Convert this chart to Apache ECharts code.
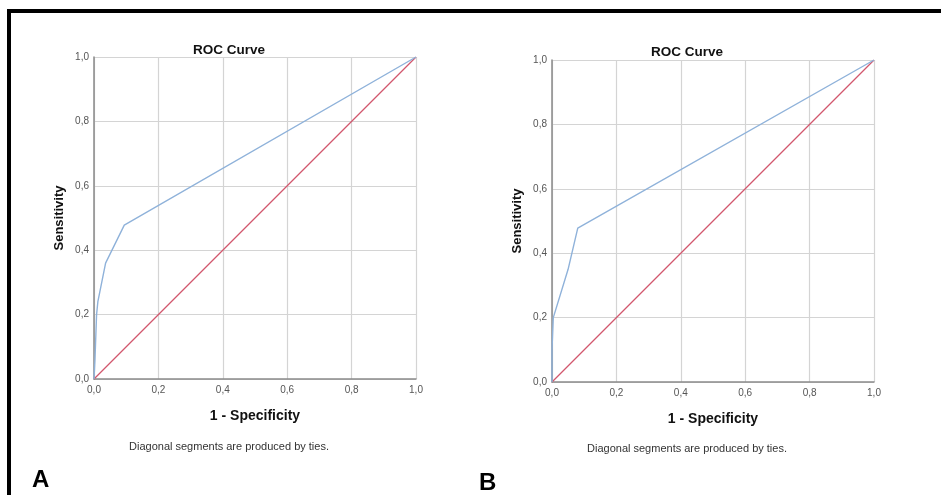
<!DOCTYPE html>
<html>
<head>
<meta charset="utf-8">
<style>
html,body{margin:0;padding:0;background:#fff;}
#c{width:941px;height:495px;}
</style>
<script src="https://cdn.jsdelivr.net/npm/echarts@6/dist/echarts.min.js"></script>
</head>
<body>
<div id="c"></div>
<script>
// ROC curve A: [1 - specificity, sensitivity]
const rocA = [[0,0],[0.003,0.06],[0.008,0.2],[0.012,0.24],[0.036,0.36],[0.094,0.478],[1,1]];
// ROC curve B
const rocB = [[0,0],[0,0.1],[0.004,0.1],[0.004,0.2],[0.008,0.2],[0.05,0.35],[0.08,0.478],[1,1]];
// reference diagonal
const diagonal = [[0,0],[1,1]];
const chartTitle = 'ROC Curve';
const xName = '1 - Specificity';
const yName = 'Sensitivity';
const footnote = 'Diagonal segments are produced by ties.';
const panelLetters = ['A','B'];

const FONT = '"Liberation Sans", Arial, sans-serif';
const fmt = v => v.toFixed(1).replace('.', ',');
const grids = [
  {left:94, top:57, width:322, height:322},
  {left:552, top:60, width:322, height:322}
];
function xAx(i){
  return {type:'value', gridIndex:i, min:0, max:1, interval:0.2,
    name:xName, nameLocation:'middle', nameGap:30,
    nameTextStyle:{fontFamily:FONT, fontSize:14, fontWeight:'bold', color:'#111'},
    axisLine:{show:true, lineStyle:{color:'#8a8a8a', width:1.5}},
    axisTick:{show:false},
    axisLabel:{formatter:fmt, fontFamily:FONT, fontSize:10, color:'#555', margin:6},
    splitLine:{show:true, lineStyle:{color:'#d4d4d4', width:1.2}}};
}
function yAx(i){
  return {type:'value', gridIndex:i, min:0, max:1, interval:0.2,
    name:yName, nameLocation:'middle', nameGap:28,
    nameTextStyle:{fontFamily:FONT, fontSize:13, fontWeight:'bold', color:'#111'},
    axisLine:{show:true, lineStyle:{color:'#8a8a8a', width:1.5}},
    axisTick:{show:false},
    axisLabel:{formatter:fmt, fontFamily:FONT, fontSize:10, color:'#555', margin:5},
    splitLine:{show:true, lineStyle:{color:'#d4d4d4', width:1.2}}};
}
const chart = echarts.init(document.getElementById('c'), null, {renderer:'canvas'});
const centers = [224, 682];
chart.setOption({
  animation:false,
  backgroundColor:'#fff',
  title:[
    {text:chartTitle, left:centers[0], top:38, textAlign:'center', textStyle:{fontFamily:FONT, fontSize:13.5, fontWeight:'bold', color:'#111'}},
    {text:chartTitle, left:centers[1], top:40, textAlign:'center', textStyle:{fontFamily:FONT, fontSize:13.5, fontWeight:'bold', color:'#111'}},
    {text:footnote, left:centers[0], top:436, textAlign:'center', textStyle:{fontFamily:FONT, fontSize:11, fontWeight:'normal', color:'#333'}},
    {text:footnote, left:centers[1], top:438, textAlign:'center', textStyle:{fontFamily:FONT, fontSize:11, fontWeight:'normal', color:'#333'}},
    {text:panelLetters[0], left:27, top:463, textStyle:{fontFamily:FONT, fontSize:24, fontWeight:'bold', color:'#000'}},
    {text:panelLetters[1], left:474, top:466, textStyle:{fontFamily:FONT, fontSize:24, fontWeight:'bold', color:'#000'}}
  ],
  grid:grids,
  xAxis:[xAx(0), xAx(1)],
  yAxis:[yAx(0), yAx(1)],
  series:[
    {type:'line', xAxisIndex:0, yAxisIndex:0, data:diagonal, showSymbol:false, lineStyle:{color:'#d2576d', width:1.3}, z:3},
    {type:'line', xAxisIndex:0, yAxisIndex:0, data:rocA, showSymbol:false, lineStyle:{color:'#8fb2da', width:1.4}, z:4},
    {type:'line', xAxisIndex:1, yAxisIndex:1, data:diagonal, showSymbol:false, lineStyle:{color:'#d2576d', width:1.3}, z:3},
    {type:'line', xAxisIndex:1, yAxisIndex:1, data:rocB, showSymbol:false, lineStyle:{color:'#8fb2da', width:1.4}, z:4}
  ],
  graphic:[
    {type:'rect', shape:{x:7, y:9, width:934, height:4}, style:{fill:'#000'}},
    {type:'rect', shape:{x:7, y:9, width:4, height:486}, style:{fill:'#000'}}
  ]
});
</script>
</body>
</html>
